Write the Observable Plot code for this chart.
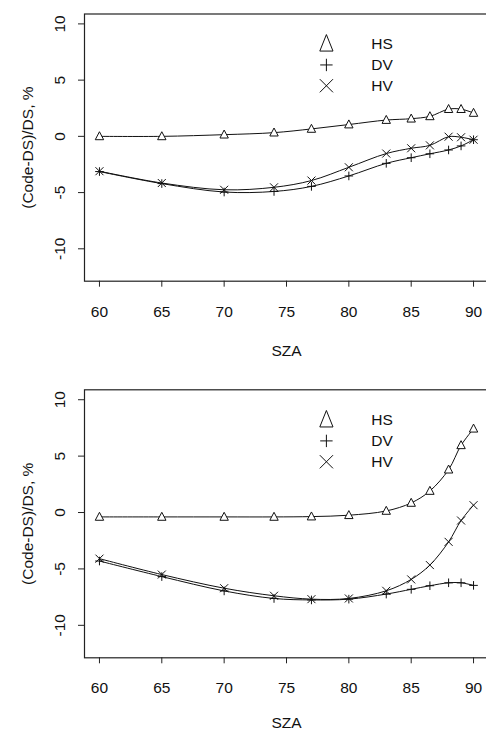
<!DOCTYPE html>
<html>
<head>
<meta charset="utf-8">
<script src="https://cdn.jsdelivr.net/npm/d3@7"></script>
<script src="https://cdn.jsdelivr.net/npm/@observablehq/plot@0.6"></script>
<style>
  html, body { margin: 0; padding: 0; background: #fff; overflow: hidden; }
  #chart { width: 491px; }
  #chart svg { display: block; max-width: none !important; height: auto; }
</style>
</head>
<body>
<div id="chart"></div>
<script>
// ---- data ----
const sza = [60, 65, 70, 74, 77, 80, 83, 85, 86.5, 88, 89, 90];
const seriesNames = ["HS", "DV", "HV"];

const topHS = [0, 0, 0.15, 0.33, 0.66, 1.05, 1.45, 1.57, 1.78, 2.42, 2.42, 2.08];
const topDV = [-3.13, -4.2, -4.95, -4.9, -4.45, -3.52, -2.4, -1.9, -1.55, -1.21, -0.85, -0.3];
const topHV = [-3.1, -4.15, -4.75, -4.53, -3.93, -2.75, -1.53, -1.06, -0.8, -0.03, -0.08, -0.3];

const botHS = [-0.39, -0.39, -0.39, -0.39, -0.36, -0.24, 0.14, 0.85, 1.91, 3.8, 5.96, 7.43];
const botDV = [-4.3, -5.68, -6.95, -7.62, -7.75, -7.68, -7.23, -6.81, -6.49, -6.23, -6.23, -6.46];
const botHV = [-4.09, -5.5, -6.71, -7.38, -7.68, -7.62, -6.94, -5.93, -4.66, -2.6, -0.71, 0.65];

const xTicks = [60, 65, 70, 75, 80, 85, 90];
const yTicks = [-10, -5, 0, 5, 10];
const xLabel = "SZA";
const yLabel = "(Code-DS)/DS, %";

// ---- layout / styles ----
const FONT = "'Liberation Sans', Arial, Helvetica, sans-serif";
const FS = 15.5;
const xDomain = [58.8, 91.2];
const yDomain = [-12.88, 10.88];
const legendLayout = {symX: 78.2, textX: 81.8, ys: [8.2, 6.35, 4.5]};

function triangle(ratio) {
  return {draw(ctx, size) {
    const r = Math.sqrt(size / Math.PI);
    const h = 2 * r * ratio;
    ctx.moveTo(0, -h * 0.58);
    ctx.lineTo(r, h * 0.42);
    ctx.lineTo(-r, h * 0.42);
    ctx.closePath();
  }};
}
const plusSym = {draw(ctx, size) {
  const r = Math.sqrt(size / Math.PI);
  ctx.moveTo(-r, 0); ctx.lineTo(r, 0);
  ctx.moveTo(0, -r); ctx.lineTo(0, r);
}};
const timesSym = {draw(ctx, size) {
  const r = Math.sqrt(size / Math.PI);
  ctx.moveTo(-r, -r); ctx.lineTo(r, r);
  ctx.moveTo(-r, r); ctx.lineTo(r, -r);
}};
const markerSyms = {HS: triangle(0.95), DV: plusSym, HV: timesSym};
const markerR = {HS: 4.2, DV: 4.3, HV: 4.0};
const legendSyms = {HS: triangle(1.25), DV: plusSym, HV: timesSym};
const legendR = {HS: 6.6, DV: 6.2, HV: 6.6};

function panel(values, height, marginTop, marginBottom, xLabelOffset) {
  const rows = [];
  seriesNames.forEach((s, i) => sza.forEach((x, j) => rows.push({series: s, x, y: values[i][j]})));
  const legend = seriesNames.map((s, i) => ({series: s, x: legendLayout.symX, tx: legendLayout.textX, y: legendLayout.ys[i]}));
  const marks = [
    Plot.frame({stroke: "#222", strokeWidth: 1.2}),
    Plot.axisX({ticks: xTicks, tickSize: 6, tickPadding: 18.5, label: null, fontSize: FS, stroke: "#222"}),
    Plot.axisY({ticks: yTicks, tickSize: 6, tickFormat: () => "", label: null, stroke: "#222"}),
    Plot.text(yTicks, {y: d => d, text: d => String(d), frameAnchor: "left", dx: -24, rotate: -90,
      textAnchor: "middle", lineAnchor: "middle", fontSize: FS, fill: "#111"}),
    Plot.text([yLabel], {frameAnchor: "left", dx: -56, rotate: -90, textAnchor: "middle", lineAnchor: "middle", fontSize: FS, fill: "#111"}),
    Plot.text([xLabel], {frameAnchor: "bottom", dy: xLabelOffset, textAnchor: "middle", lineAnchor: "middle", fontSize: FS, fill: "#111"})
  ];
  for (const s of seriesNames) {
    const d = rows.filter(r => r.series === s);
    marks.push(Plot.line(d, {x: "x", y: "y", stroke: "#111", strokeWidth: 1, curve: "catmull-rom"}));
  }
  for (const s of seriesNames) {
    const d = rows.filter(r => r.series === s);
    marks.push(Plot.dot(d, {x: "x", y: "y", symbol: markerSyms[s], r: markerR[s],
      stroke: "#111", strokeWidth: 1, fill: s === "HS" ? "white" : "none"}));
    const l = legend.filter(r => r.series === s);
    marks.push(Plot.dot(l, {x: "x", y: "y", symbol: legendSyms[s], r: legendR[s], stroke: "#111", strokeWidth: 1, fill: "none"}));
    marks.push(Plot.text(l, {x: "tx", y: "y", text: "series", textAnchor: "start", lineAnchor: "middle", fontSize: FS, fill: "#111"}));
  }
  return Plot.plot({
    width: 491, height,
    marginLeft: 84, marginRight: 3, marginTop, marginBottom,
    x: {domain: xDomain},
    y: {domain: yDomain},
    style: {fontFamily: FONT, fontSize: FS + "px", background: "white", color: "#111", maxWidth: "none"},
    marks
  });
}

const root = document.getElementById("chart");
root.appendChild(panel([topHS, topDV, topHV], 376, 13.5, 95.3, 70));
root.appendChild(panel([botHS, botDV, botHV], 356, 13.3, 74.7, 65));
</script>
</body>
</html>
